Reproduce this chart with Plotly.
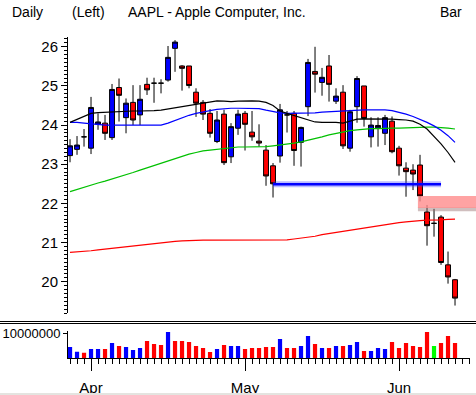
import plotly.graph_objects as go

W, H = 476, 395
L, R, T, B = 68, 6, 37, 37

dates = [
    "2002-03-26", "2002-03-27", "2002-03-28",
    "2002-04-01", "2002-04-02", "2002-04-03", "2002-04-04", "2002-04-05",
    "2002-04-08", "2002-04-09", "2002-04-10", "2002-04-11", "2002-04-12",
    "2002-04-15", "2002-04-16", "2002-04-17", "2002-04-18", "2002-04-19",
    "2002-04-22", "2002-04-23", "2002-04-24", "2002-04-25", "2002-04-26",
    "2002-04-29", "2002-04-30",
    "2002-05-01", "2002-05-02", "2002-05-03",
    "2002-05-06", "2002-05-07", "2002-05-08", "2002-05-09", "2002-05-10",
    "2002-05-13", "2002-05-14", "2002-05-15", "2002-05-16", "2002-05-17",
    "2002-05-20", "2002-05-21", "2002-05-22", "2002-05-23", "2002-05-24",
    "2002-05-28", "2002-05-29", "2002-05-30", "2002-05-31",
    "2002-06-03", "2002-06-04", "2002-06-05", "2002-06-06", "2002-06-07",
    "2002-06-10", "2002-06-11", "2002-06-12", "2002-06-13",
]

opens = [23.22, 23.38, 23.70, 23.41, 24.02, 24.05, 23.68, 24.96, 24.19, 24.58,
         24.26, 25.04, 25.07, 25.07, 25.15, 25.96, 25.51, 25.51, 24.84, 24.58,
         24.30, 23.58, 24.28, 23.19, 23.92, 24.30, 23.82, 23.59, 23.36, 22.96,
         23.21, 24.26, 24.30, 23.56, 24.47, 25.37, 25.09, 25.51, 24.61, 24.84,
         23.41, 24.47, 25.00, 23.70, 23.93, 23.79, 24.10, 23.41, 22.90, 22.85,
         22.98, 21.78, 21.49, 21.65, 20.43, 20.05]
highs = [23.64, 23.72, 23.90, 24.72, 24.30, 24.26, 25.05, 25.19, 24.68, 25.02,
         25.02, 25.21, 25.21, 25.17, 26.02, 26.17, 25.53, 25.51, 24.94, 24.64,
         24.41, 24.36, 24.39, 24.05, 24.39, 24.36, 24.36, 24.02, 23.49, 23.03,
         24.54, 24.36, 24.36, 23.96, 25.69, 26.00, 25.46, 25.79, 24.94, 25.02,
         24.39, 25.25, 25.00, 24.20, 24.20, 24.26, 24.22, 23.47, 23.05, 23.00,
         23.24, 21.96, 21.86, 21.70, 20.77, 20.07]
lows = [23.05, 23.24, 23.45, 23.26, 23.88, 23.62, 23.62, 24.09, 23.79, 24.00,
        24.00, 24.77, 24.57, 24.81, 25.11, 25.36, 24.88, 24.94, 24.21, 24.13,
        23.68, 23.54, 22.98, 23.03, 23.75, 23.35, 23.60, 23.45, 22.45, 22.15,
        23.04, 23.81, 22.96, 22.94, 24.23, 24.83, 24.75, 24.60, 24.54, 23.39,
        23.32, 24.06, 23.96, 23.43, 23.45, 23.49, 23.28, 22.71, 22.17, 22.34,
        22.05, 20.92, 21.15, 20.43, 19.95, 19.39]
closes = [23.47, 23.49, 23.70, 24.45, 24.08, 23.79, 24.91, 24.76, 24.56, 24.13,
          24.66, 24.90, 25.07, 25.07, 25.73, 26.12, 25.45, 25.01, 24.56, 24.28,
          23.79, 24.13, 23.04, 23.96, 24.28, 24.02, 23.70, 23.54, 22.70, 22.50,
          24.39, 24.26, 23.35, 23.94, 25.60, 25.30, 25.22, 25.04, 24.74, 23.47,
          24.34, 25.19, 24.17, 24.00, 23.99, 24.19, 23.32, 22.96, 22.81, 22.75,
          22.19, 21.43, 21.49, 20.49, 20.12, 19.58]

ma_black = [24.07, 24.15, 24.24, 24.30, 24.32, 24.33, 24.34, 24.35, 24.36, 24.36,
            24.36, 24.36, 24.37, 24.38, 24.41, 24.44, 24.48, 24.51, 24.53, 24.56,
            24.59, 24.62, 24.61, 24.60, 24.61, 24.62, 24.62, 24.61, 24.58, 24.50,
            24.36, 24.30, 24.24, 24.20, 24.13, 24.08, 24.07, 24.07, 24.07, 24.05,
            24.10, 24.15, 24.16, 24.16, 24.16, 24.16, 24.15, 24.14, 24.13, 24.10,
            24.02, 23.90, 23.72, 23.52, 23.30, 23.05]
ma_blue = [24.07, 24.07, 24.05, 24.03, 24.01, 24.00, 24.00, 24.00, 24.00, 24.00,
           24.00, 24.00, 24.00, 24.00, 24.05, 24.12, 24.18, 24.25, 24.30, 24.34,
           24.37, 24.40, 24.42, 24.43, 24.43, 24.43, 24.43, 24.42, 24.38, 24.34,
           24.31, 24.30, 24.30, 24.30, 24.30, 24.31, 24.33, 24.34, 24.35, 24.36,
           24.38, 24.39, 24.39, 24.39, 24.39, 24.39, 24.37, 24.33, 24.28, 24.22,
           24.15, 24.07, 23.98, 23.87, 23.73, 23.56]
ma_green = [22.30, 22.36, 22.42, 22.47, 22.52, 22.57, 22.62, 22.68, 22.73, 22.79,
            22.85, 22.91, 22.98, 23.04, 23.10, 23.16, 23.21, 23.26, 23.30, 23.34,
            23.36, 23.38, 23.40, 23.42, 23.44, 23.44, 23.44, 23.44, 23.45, 23.47,
            23.49, 23.51, 23.54, 23.57, 23.61, 23.65, 23.70, 23.75, 23.79, 23.83,
            23.86, 23.88, 23.90, 23.91, 23.91, 23.92, 23.92, 23.92, 23.93, 23.94,
            23.95, 23.95, 23.95, 23.94, 23.92, 23.90]
ma_red = [20.75, 20.76, 20.77, 20.79, 20.81, 20.83, 20.85, 20.87, 20.90, 20.92,
          20.94, 20.96, 20.98, 21.00, 21.02, 21.03, 21.04, 21.05, 21.05, 21.06,
          21.06, 21.06, 21.07, 21.07, 21.07, 21.07, 21.07, 21.07, 21.07, 21.07,
          21.07, 21.07, 21.09, 21.11, 21.13, 21.16, 21.20, 21.23, 21.26, 21.29,
          21.32, 21.35, 21.37, 21.40, 21.43, 21.45, 21.48, 21.51, 21.53, 21.55,
          21.56, 21.57, 21.57, 21.58, 21.59, 21.60]

volumes = [4.4, 2.5, 2.1, 3.6, 3.6, 3.6, 6.0, 4.8, 4.4, 3.2,
           4.0, 6.8, 5.6, 5.2, 10.4, 6.8, 6.8, 6.4, 4.8, 4.0,
           2.4, 3.6, 5.2, 4.8, 4.8, 3.6, 4.0, 4.0, 4.4, 4.4,
           7.6, 4.0, 4.0, 4.8, 8.8, 5.6, 4.0, 4.0, 4.8, 4.8,
           5.2, 6.4, 2.8, 2.8, 4.0, 3.6, 6.4, 4.0, 6.0, 4.8,
           4.4, 10.4, 4.8, 6.0, 8.8, 6.0]  # millions of shares
vol_dir = ["B", "B", "R", "B", "B", "R", "B", "R", "B", "B",
           "B", "R", "R", "R", "B", "R", "R", "R", "R", "R",
           "R", "B", "R", "B", "B", "R", "R", "R", "R", "R",
           "B", "R", "R", "B", "B", "R", "B", "R", "B", "R",
           "B", "B", "R", "B", "B", "B", "R", "R", "R", "R",
           "R", "R", "G", "R", "R", "R"]

support_level = 22.49
support_start, support_end = 29, 53
gap_top, gap_bottom = 22.19, 21.80
gap_start = 50

month_names = {"04": "Apr", "05": "May", "06": "Jun"}

xs = list(range(len(dates)))
month_ticks, month_text = [], []
for i, d in enumerate(dates):
    m = d[5:7]
    if i > 0 and m != dates[i - 1][5:7]:
        month_ticks.append(i)
        month_text.append(month_names.get(m, m))

vol_colors = [{"B": "#0000ff", "R": "#ff0000", "G": "#00ff00"}[c] for c in vol_dir]

xr = [-0.29, 57.14]
yr = [19.2, 26.25]
pw, ph = W - L - R, H - T - B


def px_x(px):
    return (px - L) / pw


def px_y(py):
    return (H - B - py) / ph


price_dom = [px_y(313), 1.0]
vol_dom = [0.0, px_y(331.4)]

FONT = "Liberation Sans"

fig = go.Figure()
fig.add_trace(go.Candlestick(
    x=xs, open=opens, high=highs, low=lows, close=closes,
    increasing=dict(fillcolor="#0000ff", line=dict(color="black", width=1)),
    decreasing=dict(fillcolor="#ff0000", line=dict(color="black", width=1)),
    whiskerwidth=0, xaxis="x", yaxis="y", showlegend=False,
))
for vals, col in [(ma_red, "#ff0000"), (ma_green, "#00c000"),
                  (ma_blue, "#0000ff"), (ma_black, "#000000")]:
    fig.add_trace(go.Scatter(x=xs, y=vals, mode="lines",
                             line=dict(color=col, width=1.2),
                             xaxis="x", yaxis="y", showlegend=False))

# support line with glow
fig.add_trace(go.Scatter(x=[support_start, support_end], y=[support_level, support_level],
                         mode="lines", line=dict(color="rgba(60,60,255,0.35)", width=6),
                         xaxis="x", yaxis="y", showlegend=False))
fig.add_trace(go.Scatter(x=[support_start, support_end], y=[support_level, support_level],
                         mode="lines", line=dict(color="#0000ff", width=2.5),
                         xaxis="x", yaxis="y", showlegend=False))

fig.add_trace(go.Bar(x=xs, y=[v * 1e6 for v in volumes], marker=dict(color=vol_colors, line=dict(width=0)),
                     width=0.6, xaxis="x2", yaxis="y2", showlegend=False))

# gap band (pink, with shadow)
gx0 = (gap_start - 0.3 - xr[0]) / (xr[1] - xr[0])
fig.add_shape(type="rect", xref="paper", yref="y", x0=gx0, x1=px_x(W + 2),
              y0=gap_bottom, y1=gap_bottom + 0.1, fillcolor="rgba(150,110,110,0.45)",
              line=dict(width=0), layer="above")
fig.add_shape(type="rect", xref="paper", yref="y", x0=gx0, x1=px_x(W + 2),
              y0=gap_bottom + 0.08, y1=gap_top, fillcolor="rgba(255,140,140,0.8)",
              line=dict(width=0), layer="above")

# separator double line
for py in (321.5, 323.5):
    fig.add_shape(type="line", xref="paper", yref="paper", x0=px_x(0), x1=px_x(W),
                  y0=px_y(py), y1=px_y(py), line=dict(color="black", width=1))
# bottom border
fig.add_shape(type="line", xref="paper", yref="paper", x0=px_x(0), x1=px_x(W),
              y0=px_y(394), y1=px_y(394), line=dict(color="#e4e4e0", width=2))

for txt, px in [("Daily", 10), ("(Left)", 70), ("AAPL - Apple Computer, Inc.", 126), ("Bar", 438)]:
    fig.add_annotation(text=txt, xref="paper", yref="paper", x=px_x(px), y=px_y(12),
                       xanchor="left", yanchor="middle", showarrow=False,
                       font=dict(family=FONT, size=14, color="black"))

fig.update_layout(
    width=W, height=H, margin=dict(l=L, r=R, t=T, b=B, autoexpand=False),
    paper_bgcolor="white", plot_bgcolor="white",
    boxgap=0.3, boxgroupgap=0.0, bargap=0.3,
    font=dict(family=FONT, size=14, color="black"),
    xaxis=dict(range=xr, domain=[0, 1], anchor="y", showticklabels=False, showline=False,
               ticks="", showgrid=False, zeroline=False, automargin=False,
               rangeslider=dict(visible=False)),
    yaxis=dict(range=yr, domain=price_dom, anchor="x", showline=True, linecolor="black", linewidth=1,
               ticks="outside", ticklen=6, tickcolor="black", dtick=1, tick0=0, automargin=False,
               showgrid=False, zeroline=False, tickfont=dict(size=15),
               minor=dict(dtick=0.1, tick0=0, ticks="outside", ticklen=3, tickcolor="black", showgrid=False)),
    xaxis2=dict(range=xr, domain=[0, 1], anchor="y2", matches="x", showline=True, linecolor="black",
                linewidth=1, tickmode="array", tickvals=month_ticks, ticktext=month_text,
                ticks="outside", ticklen=12, tickcolor="black", showgrid=False, zeroline=False,
                automargin=False, tickfont=dict(size=15), ticklabelstandoff=4,
                minor=dict(tickmode="linear", tick0=0, dtick=1, ticks="outside", ticklen=5,
                           tickcolor="black", showgrid=False)),
    yaxis2=dict(range=[0, 10.64e6], domain=vol_dom, anchor="x2", showline=True, linecolor="black",
                linewidth=1, tickmode="array", tickvals=[10000000], ticktext=["10000000"],
                ticks="outside", ticklen=4, tickcolor="black", showgrid=False, zeroline=False,
                automargin=False, tickfont=dict(size=13)),
)

fig.write_html("out.html", config={"displayModeBar": False},
               post_script="document.body.style.margin='0';document.body.style.overflow='hidden';")
